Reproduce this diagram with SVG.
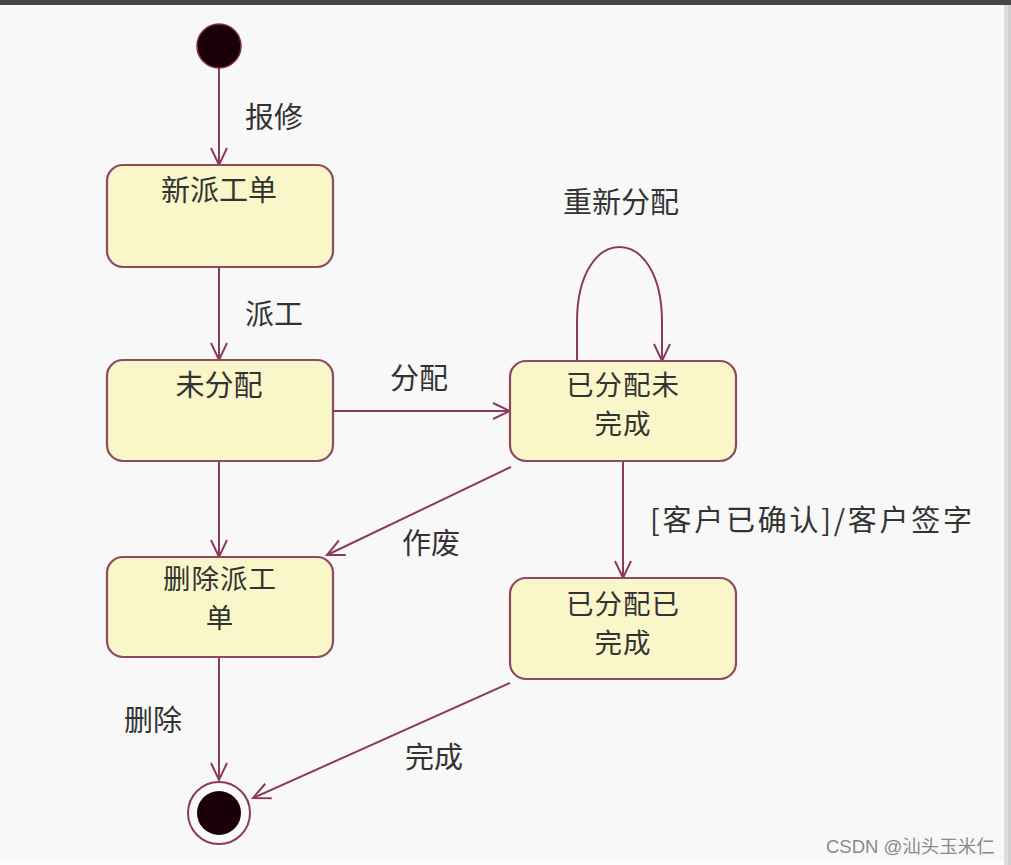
<svg xmlns="http://www.w3.org/2000/svg" width="1011" height="865" viewBox="0 0 1011 865">
<defs>
<style>
.bg{fill:#f8f8f8}
.state rect{fill:#f9f7c9;stroke:#8e4a5e;stroke-width:2.2}
.t{font-family:"Noto Sans CJK SC","Noto Sans",sans-serif;font-size:29px;fill:#333;text-anchor:middle}
.t2{font-family:"Noto Sans CJK SC","Noto Sans",sans-serif;font-size:27.5px;fill:#333;text-anchor:middle;letter-spacing:1px}
.lbl{font-family:"Noto Sans CJK SC","Noto Sans",sans-serif;font-size:29px;fill:#333;text-anchor:middle}
.edge{fill:none;stroke:#8c3a5c;stroke-width:2}
.wm{font-family:"Liberation Sans","Noto Sans CJK SC",sans-serif;font-size:18.5px;fill:#8a8a8a}
</style>
<marker id="arr" markerUnits="userSpaceOnUse" markerWidth="24" markerHeight="24" viewBox="-20 -12 24 24" refX="0" refY="0" orient="auto">
<path d="M-17,-8 L0,0 L-17,8" fill="none" stroke="#8c3a5c" stroke-width="2"/>
</marker>
</defs>
<rect class="bg" x="0" y="0" width="1011" height="865"/>
<rect x="0" y="0" width="1011" height="5" fill="#474747"/>
<rect x="1004" y="5" width="7" height="860" fill="#dedede"/>
<rect x="1008" y="5" width="3" height="860" fill="#cfcfcf"/>
<rect x="0" y="860" width="1004" height="5" fill="#fdfdfd"/>

<g id="connectors">
<line class="edge" x1="219" y1="68" x2="219" y2="165" marker-end="url(#arr)"/>
<text class="lbl" x="274" y="128">报修</text>
<line class="edge" x1="219" y1="267" x2="219" y2="360" marker-end="url(#arr)"/>
<text class="lbl" x="274" y="325">派工</text>
<line class="edge" x1="333" y1="411" x2="510" y2="411" marker-end="url(#arr)"/>
<text class="lbl" x="419" y="389">分配</text>
<path class="edge" d="M577,361 L577,322 C577,222 662,222 662,322 L662,361" marker-end="url(#arr)"/>
<text class="lbl" x="621" y="213">重新分配</text>
<line class="edge" x1="511" y1="467" x2="327" y2="555" marker-end="url(#arr)"/>
<text class="lbl" x="431" y="554">作废</text>
<line class="edge" x1="219" y1="461" x2="219" y2="557" marker-end="url(#arr)"/>
<line class="edge" x1="623" y1="461" x2="623" y2="578" marker-end="url(#arr)"/>
<text class="lbl" x="650" y="531" style="text-anchor:start" textLength="322" lengthAdjust="spacing">[客户已确认]/客户签字</text>
<line class="edge" x1="219" y1="657" x2="219" y2="780" marker-end="url(#arr)"/>
<text class="lbl" x="153" y="731">删除</text>
<line class="edge" x1="510" y1="683" x2="253" y2="798" marker-end="url(#arr)"/>
<text class="lbl" x="434" y="768">完成</text>
</g>

<g id="initial">
<circle cx="219" cy="46" r="22" fill="#1a0008" stroke="#7a2e4a" stroke-width="1.5"/>
</g>

<g id="s_new" class="state">
<rect x="107" y="165" width="226" height="102" rx="16"/>
<text class="t" x="219" y="201">新派工单</text>
</g>

<g id="s_unassigned" class="state">
<rect x="107" y="360" width="226" height="101" rx="16"/>
<text class="t" x="219" y="396">未分配</text>
</g>

<g id="s_assigned_open" class="state">
<rect x="510" y="361" width="226" height="100" rx="16"/>
<text class="t2" x="623" y="395">已分配未</text>
<text class="t2" x="623" y="434">完成</text>
</g>

<g id="s_deleted" class="state">
<rect x="107" y="557" width="226" height="100" rx="16"/>
<text class="t2" x="220" y="589">删除派工</text>
<text class="t2" x="220" y="628">单</text>
</g>

<g id="s_assigned_done" class="state">
<rect x="510" y="578" width="226" height="101" rx="16"/>
<text class="t2" x="623" y="614">已分配已</text>
<text class="t2" x="623" y="653">完成</text>
</g>

<g id="final">
<circle cx="219" cy="813" r="31" fill="#fafafa" stroke="#8c3a5c" stroke-width="2"/>
<circle cx="219" cy="813" r="22" fill="#1a0008"/>
</g>

<text class="wm" x="826" y="853">CSDN @汕头玉米仁</text>
</svg>
